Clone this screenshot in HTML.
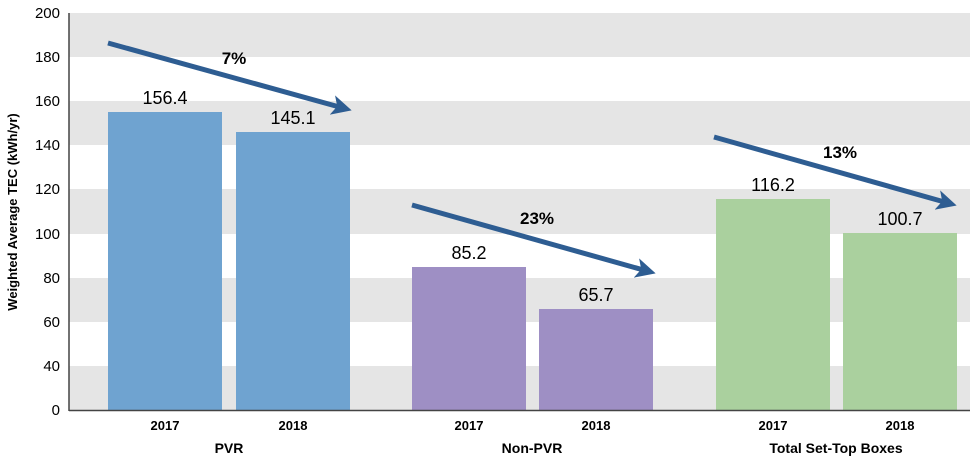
<!DOCTYPE html>
<html><head><style>body{margin:0;background:#fff}svg{display:block}text{font-family:"Liberation Sans",sans-serif}</style></head><body>
<svg width="974" height="460" xmlns="http://www.w3.org/2000/svg">
<defs><marker id="ah" markerWidth="4" markerHeight="4" refX="2.2" refY="2" orient="auto" markerUnits="strokeWidth"><path d="M0,0 L4,2 L0,4 L1,2 Z" fill="#2e5d92"/></marker></defs>
<g fill="#e5e5e5">
<rect x="69" y="13" width="901" height="44"/>
<rect x="69" y="101" width="901" height="44"/>
<rect x="69" y="189" width="901" height="45"/>
<rect x="69" y="278" width="901" height="44"/>
<rect x="69" y="366" width="901" height="44"/>
</g>
<rect x="108" y="112" width="114" height="298" fill="#6fa3d0"/>
<rect x="236" y="132" width="114" height="278" fill="#6fa3d0"/>
<rect x="412" y="267" width="114" height="143" fill="#9e8fc4"/>
<rect x="539" y="309" width="114" height="101" fill="#9e8fc4"/>
<rect x="716" y="199" width="114" height="211" fill="#aad09e"/>
<rect x="843" y="233" width="114" height="177" fill="#aad09e"/>
<line x1="69" y1="13" x2="69" y2="411" stroke="#444" stroke-width="1.5"/>
<line x1="69" y1="410.5" x2="970" y2="410.5" stroke="#444" stroke-width="1.5"/>
<g font-size="15" text-anchor="end" fill="#000">
<text x="60" y="18">200</text><text x="60" y="62">180</text><text x="60" y="106">160</text><text x="60" y="150">140</text><text x="60" y="194">120</text><text x="60" y="239">100</text><text x="60" y="283">80</text><text x="60" y="327">60</text><text x="60" y="371">40</text><text x="60" y="415">0</text>
</g>
<text transform="translate(17,212) rotate(-90)" font-size="13" font-weight="bold" text-anchor="middle">Weighted Average TEC (kWh/yr)</text>
<g font-size="18" text-anchor="middle">
<text x="165" y="104">156.4</text><text x="293" y="124">145.1</text>
<text x="469" y="259">85.2</text><text x="596" y="301">65.7</text>
<text x="773" y="191">116.2</text><text x="900" y="225">100.7</text>
</g>
<g font-size="13" text-anchor="middle" font-weight="bold">
<text x="165" y="430">2017</text><text x="293" y="430">2018</text>
<text x="469" y="430">2017</text><text x="596" y="430">2018</text>
<text x="773" y="430">2017</text><text x="900" y="430">2018</text>
<text x="229" y="453" font-size="14">PVR</text><text x="532" y="453" font-size="14">Non-PVR</text><text x="836" y="453" font-size="14">Total Set-Top Boxes</text>
</g>
<g stroke="#2e5d92" stroke-width="5" marker-end="url(#ah)">
<line x1="108" y1="43" x2="343" y2="108"/>
<line x1="412" y1="205" x2="647" y2="271"/>
<line x1="714" y1="137" x2="948" y2="203"/>
</g>
<g font-size="17" font-weight="bold" text-anchor="middle">
<text x="234" y="64">7%</text><text x="537" y="224">23%</text><text x="840" y="158">13%</text>
</g>
</svg>
</body></html>
